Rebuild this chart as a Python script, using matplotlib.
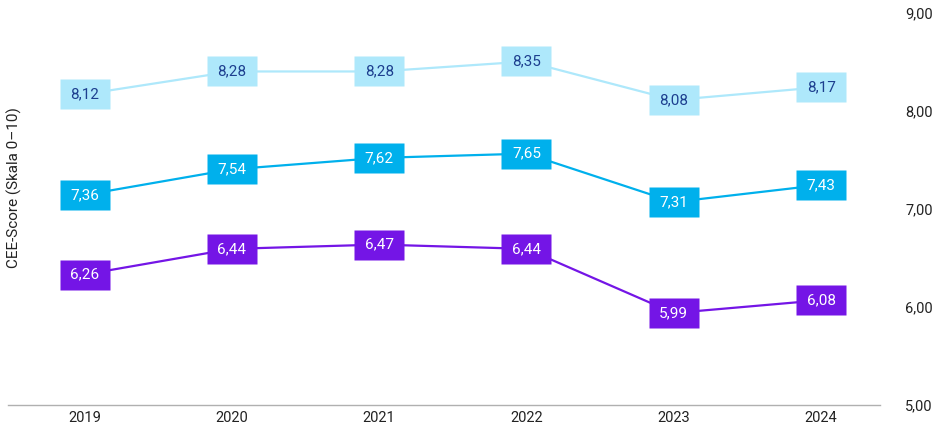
import matplotlib.pyplot as plt
from matplotlib.ticker import FuncFormatter

plt.rcParams['font.family'] = ['Roboto', 'DejaVu Sans']

years = [2019, 2020, 2021, 2022, 2023, 2024]
hoch = [8.12, 8.28, 8.28, 8.35, 8.08, 8.17]
mittel = [7.36, 7.54, 7.62, 7.65, 7.31, 7.43]
niedrig = [6.26, 6.44, 6.47, 6.44, 5.99, 6.08]

# each series sits on its own hidden scale in the original chart
series = [
    (hoch, '#aee8fb', '#1d3f8f', (5.941, 8.690)),
    (mittel, '#00b0ec', 'white', (5.887, 8.636)),
    (niedrig, '#7415e6', 'white', (5.345, 8.094)),
]

fmt = lambda v: f'{v:.2f}'.replace('.', ',')
box = [(-49, -29), (49, -29), (49, 29), (-49, 29), (-49, -29)]

fig = plt.figure(figsize=(9.38, 4.23), dpi=100)
rect = [8 / 938, 18 / 423, 872 / 938, 392 / 423]
ax = fig.add_axes(rect)

for vals, col, txt_col, lim in series:
    a = fig.add_axes(rect, sharex=ax)
    a.set_ylim(*lim)
    a.axis('off')
    a.patch.set_visible(False)
    a.plot(years, vals, color=col, lw=1.6, zorder=2)
    a.plot(years, vals, ls='none', marker=box, ms=35.3, mfc=col, mec='none', zorder=3)
    for x, v in zip(years, vals):
        a.text(x, v, fmt(v), ha='center', va='center', fontsize=11, color=txt_col, zorder=4)

ax.set_xlim(2019 - 0.52, 2024 + 0.4)
ax.set_ylim(5, 9)
ax.set_xticks(years)
ax.set_yticks([5, 6, 7, 8, 9])
ax.yaxis.set_major_formatter(FuncFormatter(lambda v, p: fmt(v)))
ax.yaxis.tick_right()
ax.tick_params(axis='y', length=0, pad=18, labelsize=10.5, colors='#222222')
ax.tick_params(axis='x', length=0, pad=4, labelsize=10.5, colors='#222222')

for s in ['top', 'left', 'right']:
    ax.spines[s].set_visible(False)
ax.spines['bottom'].set_color('#b0b0b0')
ax.spines['bottom'].set_linewidth(1)

fig.text(14 / 938, 1 - 188 / 423, 'CEE-Score (Skala 0–10)', rotation=90, ha='center', va='center',
         fontsize=11, color='#222222')

fig.savefig('out.png', dpi=100)
